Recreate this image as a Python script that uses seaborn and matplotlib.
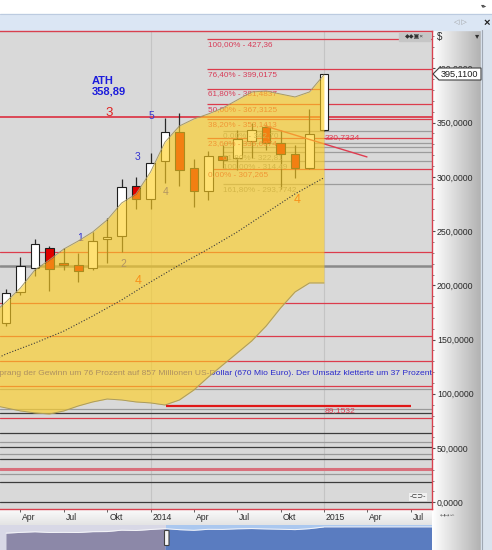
import numpy as np
import seaborn as sns
import matplotlib.pyplot as plt
from matplotlib.colors import LinearSegmentedColormap
from matplotlib.patches import Rectangle, Polygon, FancyBboxPatch
from matplotlib.ticker import MultipleLocator, FuncFormatter, FixedLocator
import matplotlib.transforms as mtransforms

# month index: 0 = Jan 2013
months = list(range(2, 25))
opens = [165.5, 194.0, 216.2, 234.5, 220.8, 218.9, 216.2, 242.8, 245.5, 291.6, 279.6, 314.7,
         341.4, 308.3, 287.0, 319.3, 317.4, 333.1, 346.1, 331.3, 321.1, 308.3, 343.3]
highs = [197.0, 226.3, 242.8, 236.3, 234.5, 229.9, 249.4, 262.1, 298.1, 299.9, 322.0, 354.4,
         358.89, 316.5, 323.9, 329.4, 343.3, 349.8, 348.9, 343.3, 329.4, 362.6, 395.11]
lows = [162.7, 191.2, 208.8, 194.9, 214.3, 203.0, 214.3, 220.8, 230.7, 270.4, 270.4, 294.4,
        291.6, 272.2, 278.7, 308.3, 306.4, 317.4, 324.9, 288.9, 299.0, 307.265, 342.0]
closes = [193.2, 218.0, 238.1, 215.2, 218.9, 213.4, 241.1, 244.6, 290.7, 279.6, 312.8, 341.4,
          306.4, 287.0, 319.3, 315.6, 335.0, 343.3, 331.3, 321.1, 308.3, 339.6, 395.11]

band_months = list(range(1, 25))
band_upper = [172.7, 184.7, 197.6, 214.2, 223.4, 233.5, 240.9, 249.2, 260.3, 275.9, 284.3, 304.5,
              332.0, 346.9, 353.4, 358.0, 363.5, 370.9, 378.3, 379.2, 376.4, 373.7, 378.3, 394.0]
band_lower = [89.7, 87.0, 84.2, 82.4, 81.4, 84.2, 88.8, 92.5, 95.2, 94.3, 92.5, 91.6,
              89.7, 94.3, 103.5, 115.5, 126.6, 137.6, 148.7, 162.5, 179.1, 193.9, 202.2, 202.2]

ma_months = [1, 2, 4, 6, 8, 10, 12, 14, 16, 18, 20, 22, 24]
ma_values = [130.3, 136.7, 146.8, 157.8, 171.7, 186.5, 203.1, 218.8, 233.5, 249.2, 266.8, 284.3, 299.2]

red_levels = [355.5, 230.8, 183.8, 153.4, 130.3, 107.2, 77.4]
gray_levels = [104.5, 85.7, 55.9, 44.5, 25.8]
dark_levels = [82.1, 63.6, 50.7, 39.9, 19.0, 0.0]
thick_gray_level = 217.9
thick_red_level = 30.7

fib_levels = [427.36, 399.0175, 381.4837, 367.3125, 353.1413, 335.6074, 307.265]
fib_labels = ["100,00% - 427,36", "76,40% - 399,0175", "61,80% - 381,4837", "50,00% - 367,3125",
              "38,20% - 353,1413", "23,60% - 335,6074", "0,00% - 307,265"]
gray_fib_levels = [342.7, 331.6, 327.9, 323.3, 314.49, 293.7742]
gray_fib_text = {342.7: "0,00% - 342,70", 323.3: "61,80% - 322,81",
                 314.49: "100,00% - 314,49", 293.7742: "161,80% - 293,7742"}

trend_months = [19.92, 26.98]
trend_values = [347.0, 318.4]
support_value = 89.1532
support_months = [13.07, 30.03]

tick_months = [3, 6, 9, 12, 15, 18, 21, 24, 27, 30]
tick_labels = ["Apr", "Jul", "Okt", "2014", "Apr", "Jul", "Okt", "2015", "Apr", "Jul"]

sns.set_theme(style="white")
plt.rcParams['font.family'] = ['Liberation Sans', 'DejaVu Sans']

W, H = 492, 550
fig = plt.figure(figsize=(W / 100, H / 100), dpi=100)


def px_box(x0, y0, x1, y1):
    return [x0 / W, 1 - y1 / H, (x1 - x0) / W, (y1 - y0) / H]


# background decoration in pixel coordinates
bg = fig.add_axes([0, 0, 1, 1], zorder=-5)
bg.set_xlim(0, W)
bg.set_ylim(H, 0)
bg.axis('off')
bg.add_patch(Rectangle((0, 0), W, 14, color='white'))
bg.add_patch(Rectangle((0, 14), W, 16, color='#dbe6f4'))
bg.plot([0, W], [14, 14], color='#bccbe0', lw=0.8)
bg.imshow(np.linspace(0, 1, 64)[None, :], extent=(432, 481, H, 30),
          cmap=LinearSegmentedColormap.from_list('p', ['#ffffff', '#b2b2b2']), aspect='auto')
bg.add_patch(Rectangle((481, 30), 11, H - 30, color='#dae3ee'))
bg.plot([481.5, 481.5], [30, H], color='#a0a8b4', lw=0.8)
bg.imshow(np.linspace(0, 1, 16)[:, None], extent=(0, 432, 525, 509),
          cmap=LinearSegmentedColormap.from_list('l', ['#fbfbfb', '#e4e4e4']), aspect='auto')

# main chart
xlo, xhi = 1.585, 31.48
ax = fig.add_axes(px_box(0, 31, 432, 509))
ax.set_facecolor('#d9d9d9')
ax.set_xlim(xlo, xhi)
ax.set_ylim(-6.2, 434.5)

for m in [12, 24]:
    ax.axvline(m, color='#c4c4c4', lw=0.8, zorder=0.5)

for v in red_levels:
    ax.axhline(v, color='#dc3c4c', lw=1.3 if v > 300 else 0.9, zorder=1)
for v in gray_levels:
    ax.axhline(v, color='#9a9a9a', lw=0.9, zorder=1)
for v in dark_levels:
    ax.axhline(v, color='#3c3c3c', lw=0.9, zorder=1)
ax.axhline(thick_gray_level, color='#8a8a8a', lw=1.8, zorder=1)
ax.axhline(thick_red_level, color='#d8707c', lw=2.2, zorder=1)

for v in gray_fib_levels:
    ax.hlines(v, 17.0, xhi, color='#9c9c9c', lw=0.9, zorder=1)
for v in fib_levels:
    ax.hlines(v, 15.9, xhi, color='#dc3c4c', lw=0.9, zorder=1.1)
for v, t in zip(fib_levels, fib_labels):
    ax.text(15.98, v - 1.8, t, color='#d83c58', fontsize=5.9, va='top', ha='left', zorder=3)
for v in gray_fib_levels:
    if v in gray_fib_text:
        ax.text(17.05, v - 1.8, gray_fib_text[v], color='#8e8e8e', fontsize=5.9,
                va='top', ha='left', zorder=2.9)

# candles
for m, o, h, l, c in zip(months, opens, highs, lows, closes):
    ax.vlines(m, l, h, color='#2a2a2a', lw=0.9, zorder=2)
    fill = 'white' if c >= o else '#e00000'
    ax.bar(m, max(abs(c - o), 1.0), bottom=min(o, c), width=0.6, color=fill,
           edgecolor='#1e1e1e', lw=0.8, zorder=2.5)

ax.plot(trend_months, trend_values, color='#e03c50', lw=1.0, zorder=3)
ax.text(24.05, 335.9, "330,7324", color='#e03c50', fontsize=6.1, va='center', ha='left', zorder=6)
ax.hlines(support_value, support_months[0], support_months[1], color='#e01818', lw=1.6, zorder=6)
ax.text(24.08, 84.2, "89,1532", color='#e03c50', fontsize=6.1, va='center', ha='left', zorder=6)

# wave labels and notes
ax.text(7.95, 383.7, "ATH\n358,89", color='#1c1cdc', fontsize=8, fontweight='bold',
        ha='left', va='center', linespacing=1.0, zorder=3)
ax.text(9.13, 358.9, "3", color='#e02020', fontsize=9.5, ha='center', va='center', zorder=3)
for m, v, t in [(12.1, 356.4, "5"), (11.07, 318.4, "3"), (13.07, 286.1, "4"),
                (7.12, 243.6, "1"), (10.1, 219.7, "2")]:
    ax.text(m, v, t, color='#3434d0', fontsize=7.5, ha='center', va='center', zorder=3)
for m, v in [(11.13, 204.0), (22.14, 278.7)]:
    ax.text(m, v, "4", color='#ee2a10', fontsize=9, ha='center', va='center', zorder=3)
ax.text(xhi - 0.02, 118.3,
        "Im Schlussquartal sprang der Gewinn um 76 Prozent auf 857 Millionen US-Dollar "
        "(670 Mio Euro). Der Umsatz kletterte um 37 Prozent",
        color='#2a2acc', fontsize=6.12, ha='right', va='center', clip_on=True, zorder=3)

# band overlay
ax.fill_between(band_months, band_lower, band_upper, color='#ffcf1e', alpha=0.62, lw=0, zorder=4)
sns.lineplot(x=band_months, y=band_upper, color='#a89a62', lw=0.7, ax=ax, zorder=5)
sns.lineplot(x=band_months, y=band_lower, color='#a89a62', lw=0.7, ax=ax, zorder=5)
sns.lineplot(x=ma_months, y=ma_values, color='#3c3c3c', lw=0.8, linestyle=(0, (1, 1.6)),
             ax=ax, zorder=5)

# axes styling
for side in ['top', 'bottom', 'right']:
    ax.spines[side].set_color('#d8404e')
    ax.spines[side].set_linewidth(1.0)
ax.spines['left'].set_visible(False)
ax.yaxis.tick_right()
ax.yaxis.set_major_locator(MultipleLocator(50))
ax.yaxis.set_minor_locator(MultipleLocator(10))
ax.yaxis.set_major_formatter(FuncFormatter(lambda v, p: f"{v:.4f}".replace('.', ',')))
ax.tick_params(axis='y', which='major', length=2.5, width=0.8, color='#505050',
               labelsize=6.3, pad=1.0, labelcolor='#2a2a2a', right=True, left=False)
ax.tick_params(axis='y', which='minor', length=1.5, width=0.6, color='#707070', right=True, left=False)
ax.xaxis.set_major_locator(FixedLocator(tick_months))
ax.set_xticklabels(tick_labels)
ax.tick_params(axis='x', length=2.2, width=0.7, color='#606060', labelsize=6.2, pad=0.8,
               labelcolor='#2a2a2a', bottom=True)
shift = mtransforms.ScaledTranslation(2 / 100, 0, fig.dpi_scale_trans)
for lab in ax.get_xticklabels():
    lab.set_ha('left')
    lab.set_transform(lab.get_transform() + shift)
ax.set_xlabel('')
ax.set_ylabel('')
ax.grid(False)

# navigator strip
nav = fig.add_axes(px_box(0, 525, 432, 550))
nav.set_xlim(xlo, xhi)
nav.set_ylim(-360, 460)
nav.axis('off')
nav.axvspan(xlo, 13.07, color='#d8d8e6', lw=0)
nav.axvspan(13.07, xhi, color='#abc8ef', lw=0)
split = months.index(13)
nav.fill_between(months[:split + 1], -360, closes[:split + 1], color='#8c88a8', lw=0)
nav.fill_between(months[split:], -360, closes[split:], color='#5a7cc0', lw=0)
nav.fill_between([months[-1], xhi], -360, [closes[-1], closes[-1]], color='#5a7cc0', lw=0)
nav.plot(months + [xhi], closes + [closes[-1]], color='#f4f4f8', lw=0.7)

# overlay widgets
ov = fig.add_axes([0, 0, 1, 1], zorder=10)
ov.set_xlim(0, W)
ov.set_ylim(H, 0)
ov.axis('off')
ov.patch.set_alpha(0)
ov.add_patch(Polygon([(433, 74), (439, 68), (481, 68), (481, 80), (439, 80)], closed=True,
                     fc='white', ec='#404040', lw=0.8))
ov.text(441, 74.3, "395,1100", fontsize=6.6, va='center', ha='left', color='#1e1e1e')
ov.text(437, 37, "$", fontsize=7, va='center', ha='left', color='#303030')
ov.text(477, 37, "▾", fontsize=6, va='center', ha='center', color='#303030')
ov.add_patch(Rectangle((399, 33), 31, 8, color='#c6c6c6'))
ov.text(414, 37, "◆◆▣×", fontsize=4.5, va='center', ha='center', color='#303030')
ov.text(460, 23, "◁ ▷", fontsize=5, va='center', ha='center', color='#9a9a9a')
ov.text(487, 23, "×", fontsize=8, va='center', ha='center', color='#202020', fontweight='bold')
ov.text(484, 6, "▾▸", fontsize=4.5, va='center', ha='center', color='#505050')
ov.text(418, 497, "-⊂⊃-", fontsize=5, va='center', ha='center', color='#303030',
        bbox=dict(fc='#f0f0f0', ec='none', pad=0.3))
ov.text(448, 515, "↤↦∽", fontsize=4.5, va='center', ha='center', color='#606060')
ov.add_patch(FancyBboxPatch((165, 531), 3.5, 14, boxstyle="round,pad=0.5",
                            fc='#f4f4f4', ec='#404040', lw=0.8))

fig.savefig('out.png', dpi=100)
